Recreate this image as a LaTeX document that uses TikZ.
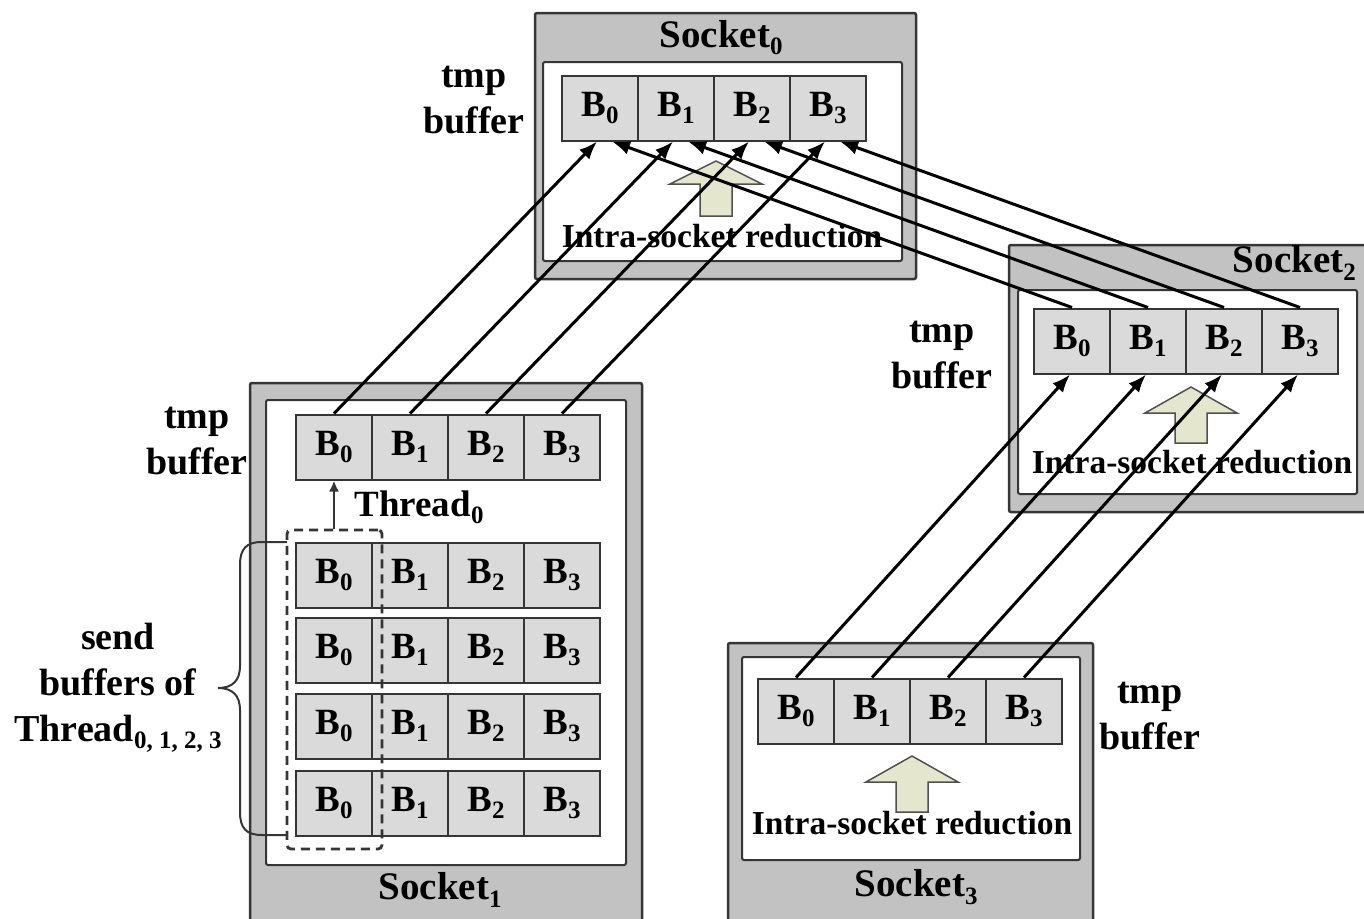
\documentclass[tikz,border=0pt]{standalone}
\usepackage{fontspec}
\setmainfont{Liberation Serif}
\usetikzlibrary{arrows.meta}
\definecolor{bord}{HTML}{353535}
\definecolor{sockgray}{HTML}{C2C2C2}
\definecolor{cellgray}{HTML}{DADADA}
\definecolor{arrfill}{HTML}{E4E6CE}
\definecolor{arrbord}{HTML}{505050}
\newcommand\sbs[1]{\raisebox{-0.4ex}{\fontsize{25}{25}\selectfont #1}}
\begin{document}
\begin{tikzpicture}[x=1pt,y=-1pt,
  outerbox/.style={draw=bord, fill=sockgray, line width=2.5pt, rounded corners=2pt},
  innerbox/.style={draw=bord, fill=white, line width=2pt, rounded corners=2pt},
  cell/.style={draw=bord, fill=cellgray, line width=2pt, minimum width=76pt, minimum height=65pt, inner sep=0pt, font=\fontsize{37}{37}\selectfont\bfseries},
  titletxt/.style={font=\fontsize{39}{40}\selectfont\bfseries, inner sep=0pt},
  lbl/.style={font=\fontsize{38}{46}\selectfont\bfseries, align=center, inner sep=0pt},
  redtxt/.style={font=\fontsize{33.5}{33.5}\selectfont\bfseries, inner sep=0pt},
  blk/.style={draw=arrbord, fill=arrfill, line width=1.5pt, line join=miter},
  link/.style={line width=3pt, -{Latex[length=18pt,width=14pt]}}
]
\useasboundingbox (0,0) rectangle (1364,918);
\clip (0,0) rectangle (1364,918);

% ---------- Socket 0 ----------
\draw[outerbox] (535,13) rectangle (916,279);
\draw[innerbox] (543,62) rectangle (902,261);
\node[titletxt] (t0) at (721,38) {Socket\sbs{0}};
\foreach \i/\x in {0/600,1/676,2/752,3/828}
  \node[cell] (s0b\i) at (\x,108) {B\sbs{\i}};
\draw[blk] (716,161) -- (762,184) -- (732,184) -- (732,216) -- (700,216) -- (700,184) -- (670,184) -- cycle;
\node[redtxt] (r0) at (722,236) {Intra-socket reduction};
\node[lbl] (tb0) at (474,100) {tmp\\buffer};

% ---------- Socket 2 ----------
\draw[outerbox] (1009,245) rectangle (1372,512);
\draw[innerbox] (1018,290) rectangle (1357,494);
\node[titletxt, anchor=east] (t2) at (1356,263) {Socket\sbs{2}};
\foreach \i/\x in {0/1072,1/1148,2/1224,3/1300}
  \node[cell] (s2b\i) at (\x,341) {B\sbs{\i}};
\draw[blk] (1191,387) -- (1237,413) -- (1207,413) -- (1207,443) -- (1175,443) -- (1175,413) -- (1145,413) -- cycle;
\node[redtxt] (r2) at (1192,462) {Intra-socket reduction};
\node[lbl] (tb2) at (942,355) {tmp\\buffer};

% ---------- Socket 1 ----------
\draw[outerbox] (250,383) rectangle (642,930);
\draw[innerbox] (266,400) rectangle (626,865);
\node[titletxt] (t1) at (440,890) {Socket\sbs{1}};
\foreach \i/\x in {0/334,1/410,2/486,3/562}
  \node[cell] (t1b\i) at (\x,447) {B\sbs{\i}};
\node[lbl] (tb1) at (197,441) {tmp\\buffer};
% brace
\draw[draw=bord, line width=2pt] (287,542) -- (262,542) .. controls (246,542) and (240,549) .. (240,565) -- (240,666) .. controls (240,680) and (233,688) .. (218,688) .. controls (233,688) and (240,696) .. (240,710) -- (240,812) .. controls (240,828) and (246,835) .. (262,835) -- (287,835);
\foreach \j/\y in {1/575,2/650,3/726,4/803}
  \foreach \i/\x in {0/334,1/410,2/486,3/562}
    \node[cell] (r\j b\i) at (\x,\y) {B\sbs{\i}};
\node[draw=bord, line width=2.8pt, dash pattern=on 9pt off 6pt, rounded corners=4pt, minimum width=95pt, minimum height=319pt, inner sep=0pt] (dbox) at (334.5,689.5) {};
\draw[draw=bord, line width=2.2pt, -{Latex[length=11pt,width=10pt]}] (dbox.north -| t1b0.center) -- (t1b0.south);
\node[font=\fontsize{37}{37}\selectfont\bfseries, inner sep=0pt] (th0) at (419,507) {Thread\sbs{0}};
\node[lbl] (sb) at (118,688) {send\\buffers of\\Thread\sbs{0, 1, 2, 3}};

% ---------- Socket 3 ----------
\draw[outerbox] (728,643) rectangle (1093,930);
\draw[innerbox] (742,657) rectangle (1080,860);
\node[titletxt] (t3) at (916,887) {Socket\sbs{3}};
\foreach \i/\x in {0/796,1/872,2/948,3/1024}
  \node[cell] (s3b\i) at (\x,711) {B\sbs{\i}};
\draw[blk] (912,756) -- (958,782) -- (928,782) -- (928,812) -- (896,812) -- (896,782) -- (866,782) -- cycle;
\node[redtxt] (r3) at (912,823) {Intra-socket reduction};
\node[lbl] (tb3) at (1150,716) {tmp\\buffer};

% ---------- inter-socket arrows ----------
\foreach \i in {0,1,2,3} {
  \draw[link] (t1b\i.north) -- ([xshift=-3pt]s0b\i.south);
  \draw[link] (s2b\i.north) -- ([xshift=12pt]s0b\i.south);
  \draw[link] (s3b\i.north) -- ([xshift=-2pt]s2b\i.south);
}
\end{tikzpicture}
\end{document}
